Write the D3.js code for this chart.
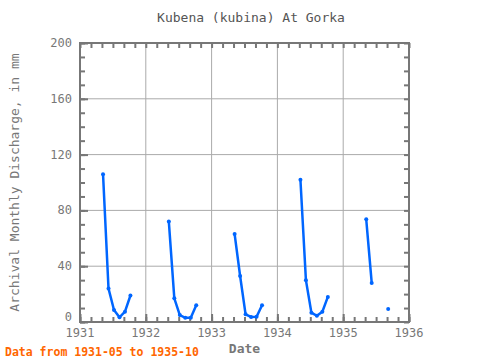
<!DOCTYPE html>
<html>
<head>
<meta charset="utf-8">
<script src="https://cdn.jsdelivr.net/npm/d3@7"></script>
<style>
  body { margin: 0; background: #fff; }
  text { font-family: "DejaVu Sans Mono", monospace; }
</style>
</head>
<body>
<svg id="chart"></svg>
<script>
// monthly discharge, May..Oct of each year (null = missing)
const years = [1931, 1932, 1933, 1934, 1935];
const monthNums = [5, 6, 7, 8, 9, 10];
const v1931 = [106, 24, 8.6, 3.4, 7.4, 19];
const v1932 = [72, 17, 5, 3, 3, 12];
const v1933 = [63, 33, 5.5, 3.6, 3.8, 12];
const v1934 = [102, 30, 6.7, 4.5, 7.4, 18];
const v1935 = [73.6, 28, null, null, 9.3, null];
const yTicks = [0, 40, 80, 120, 160, 200];
const xTicks = [1931, 1932, 1933, 1934, 1935, 1936];

const width = 480, height = 360;
const margin = {top: 43, right: 71, bottom: 38, left: 80};
const svg = d3.select("#chart").attr("width", width).attr("height", height);

const x = d3.scaleLinear().domain([1931, 1936]).range([margin.left, width - margin.right]);
const y = d3.scaleLinear().domain([0, 200]).range([height - margin.bottom, margin.top]);

// build point list with gaps between years
const allVals = [v1931, v1932, v1933, v1934, v1935];
const points = [];
years.forEach((yr, i) => {
    monthNums.forEach((m, j) => {
        points.push({t: yr + (m - 0.8) / 12, v: allVals[i][j]});
    });
    points.push({t: yr + 0.9, v: null});
});

const grey = "#777";

// gridlines
svg.append("g")
    .selectAll("line")
    .data(yTicks.slice(1, -1))
    .enter().append("line")
    .attr("x1", x(1931)).attr("x2", x(1936))
    .attr("y1", d => y(d)).attr("y2", d => y(d))
    .style("stroke", "#aaa").style("stroke-width", 1);
svg.append("g")
    .selectAll("line")
    .data(xTicks.slice(1, -1))
    .enter().append("line")
    .attr("x1", d => x(d)).attr("x2", d => x(d))
    .attr("y1", y(0)).attr("y2", y(200))
    .style("stroke", "#aaa").style("stroke-width", 1);

// axes (ticks inward)
const yMinor = d3.range(0, 201, 10);
const xMinor = d3.range(1931, 1936.001, 1 / 6);
function axisStyle(g) {
    g.select(".domain").remove();
    g.selectAll(".tick line").style("stroke", grey).style("stroke-width", 2);
}
svg.append("g").attr("transform", `translate(${x(1931)},0)`)
    .call(d3.axisRight(y).tickValues(yMinor).tickSize(5).tickFormat(""))
    .call(axisStyle);
svg.append("g").attr("transform", `translate(${x(1936)},0)`)
    .call(d3.axisLeft(y).tickValues(yMinor).tickSize(5).tickFormat(""))
    .call(axisStyle);
svg.append("g").attr("transform", `translate(0,${y(0)})`)
    .call(d3.axisTop(x).tickValues(xMinor).tickSize(5).tickFormat(""))
    .call(axisStyle);
svg.append("g").attr("transform", `translate(0,${y(200)})`)
    .call(d3.axisBottom(x).tickValues(xMinor).tickSize(5).tickFormat(""))
    .call(axisStyle);
svg.append("g").attr("transform", `translate(0,${y(0)})`)
    .call(d3.axisTop(x).tickValues(xTicks).tickSize(8).tickFormat(""))
    .call(axisStyle);
svg.append("g").attr("transform", `translate(${x(1931)},0)`)
    .call(d3.axisRight(y).tickValues(yTicks).tickSize(8).tickFormat(""))
    .call(axisStyle);

// tick labels
svg.append("g")
    .selectAll("text")
    .data(yTicks)
    .enter().append("text")
    .attr("x", x(1931) - 8).attr("y", d => d === 0 ? y(d) - 1 : y(d) + 4)
    .attr("text-anchor", "end")
    .attr("font-size", 12).attr("fill", grey)
    .text(d => d);
svg.append("g")
    .selectAll("text")
    .data(xTicks)
    .enter().append("text")
    .attr("x", d => x(d)).attr("y", y(0) + 15)
    .attr("text-anchor", "middle")
    .attr("font-size", 12).attr("fill", grey)
    .text(d => d);

// frame
svg.append("rect")
    .attr("x", x(1931)).attr("y", y(200))
    .attr("width", x(1936) - x(1931)).attr("height", y(0) - y(200))
    .style("fill", "none").style("stroke", grey).style("stroke-width", 2);

// data line
const line = d3.line()
    .defined(d => d.v !== null)
    .x(d => x(d.t)).y(d => y(d.v));
svg.append("path")
    .datum(points)
    .attr("d", line)
    .style("fill", "none").style("stroke", "#0066ff").style("stroke-width", 2.5);
svg.append("g")
    .selectAll("circle")
    .data(points.filter(d => d.v !== null))
    .enter().append("circle")
    .attr("cx", d => x(d.t)).attr("cy", d => y(d.v))
    .attr("r", 2)
    .attr("fill", "#0066ff");

// titles
svg.append("text")
    .attr("x", 251).attr("y", 22)
    .attr("text-anchor", "middle").attr("font-size", 13).attr("fill", "#555")
    .text("Kubena (kubina) At Gorka");
svg.append("text")
    .attr("x", (x(1931) + x(1936)) / 2).attr("y", 353)
    .attr("text-anchor", "middle").attr("font-size", 13).attr("font-weight", "bold").attr("fill", grey)
    .text("Date");
svg.append("text")
    .attr("transform", `translate(19,${(y(0) + y(200)) / 2}) rotate(-90)`)
    .attr("text-anchor", "middle").attr("font-size", 13).attr("fill", grey)
    .text("Archival Monthly Discharge, in mm");
svg.append("text")
    .attr("x", 5).attr("y", 356)
    .attr("font-size", 11.5).attr("font-weight", "bold").attr("fill", "#ff6600")
    .text("Data from 1931-05 to 1935-10");
</script>
</body>
</html>
